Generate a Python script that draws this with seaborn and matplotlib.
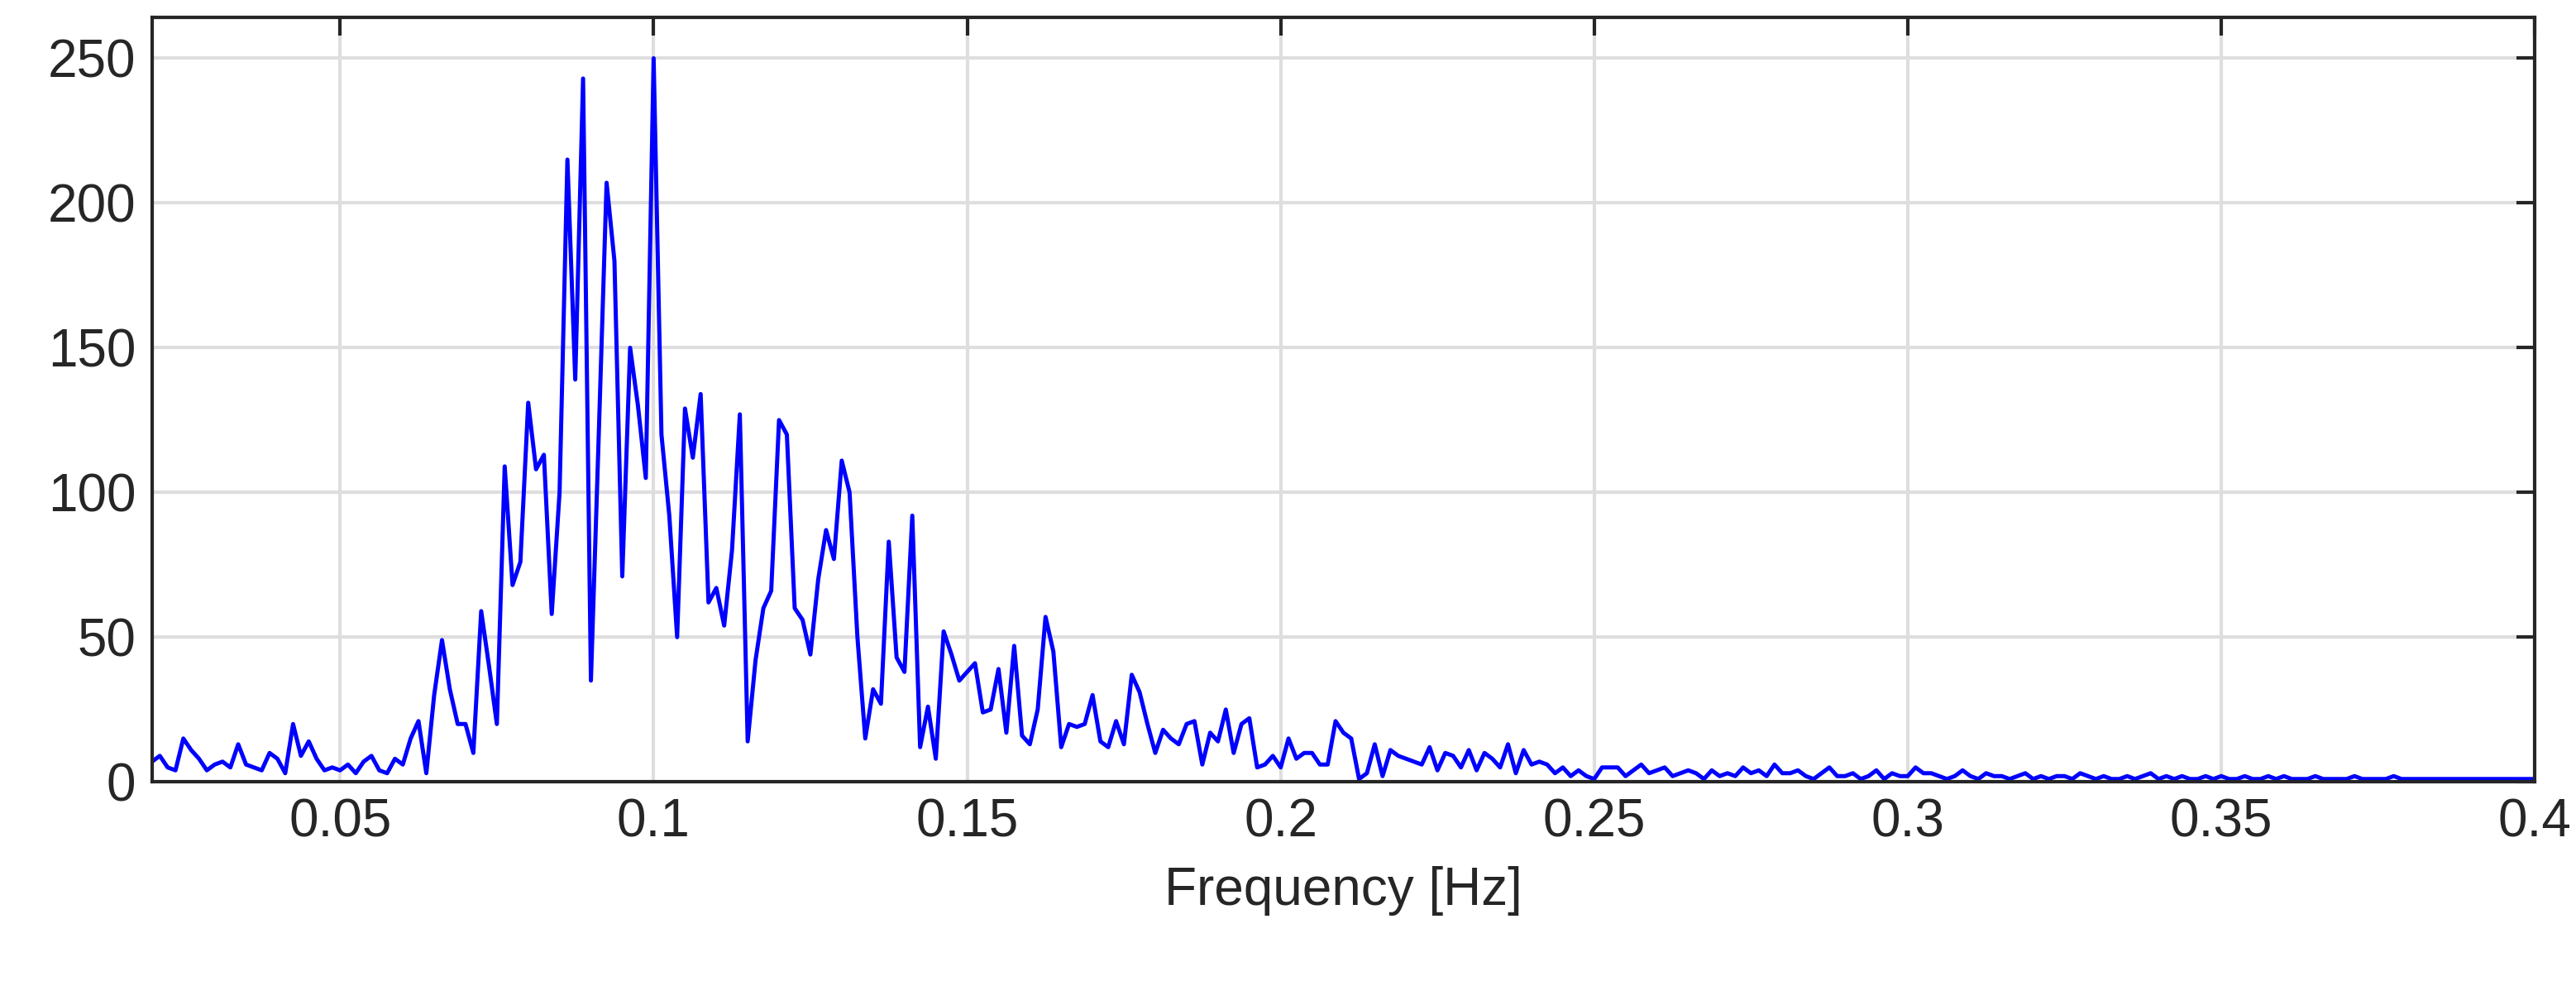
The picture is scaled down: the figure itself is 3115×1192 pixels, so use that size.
import numpy as np
import pandas as pd
import matplotlib
matplotlib.use("Agg")
import matplotlib.pyplot as plt
import seaborn as sns

freq_start = 0.02
freq_step = 0.00125
amplitude = [
    7, 9, 5, 4, 15, 11, 8, 4, 6, 7, 5, 13, 6, 5, 4, 10, 8, 3, 20, 9,
    14, 8, 4, 5, 4, 6, 3, 7, 9, 4, 3, 8, 6, 15, 21, 3, 30, 49, 32, 20,
    20, 10, 59, 40, 20, 109, 68, 76, 131, 108, 113, 58, 100, 215, 139, 243, 35, 120, 207, 180,
    71, 150, 130, 105, 250, 120, 92, 50, 129, 112, 134, 62, 67, 54, 80, 127, 14, 42, 60, 66,
    125, 120, 60, 56, 44, 70, 87, 77, 111, 100, 50, 15, 32, 27, 83, 43, 38, 92, 12, 26,
    8, 52, 44, 35, 38, 41, 24, 25, 39, 17, 47, 16, 13, 25, 57, 45, 12, 20, 19, 20,
    30, 14, 12, 21, 13, 37, 31, 20, 10, 18, 15, 13, 20, 21, 6, 17, 14, 25, 10, 20,
    22, 5, 6, 9, 5, 15, 8, 10, 10, 6, 6, 21, 17, 15, 1, 3, 13, 2, 11, 9,
    8, 7, 6, 12, 4, 10, 9, 5, 11, 4, 10, 8, 5, 13, 3, 11, 6, 7, 6, 3,
    5, 2, 4, 2, 1, 5, 5, 5, 2, 4, 6, 3, 4, 5, 2, 3, 4, 3, 1, 4,
    2, 3, 2, 5, 3, 4, 2, 6, 3, 3, 4, 2, 1, 3, 5, 2, 2, 3, 1, 2,
    4, 1, 3, 2, 2, 5, 3, 3, 2, 1, 2, 4, 2, 1, 3, 2, 2, 1, 2, 3,
    1, 2, 1, 2, 2, 1, 3, 2, 1, 2, 1, 1, 2, 1, 2, 3, 1, 2, 1, 2,
    1, 1, 2, 1, 2, 1, 1, 2, 1, 1, 2, 1, 2, 1, 1, 1, 2, 1, 1, 1,
    1, 2, 1, 1, 1, 1, 2, 1, 1, 1, 1, 1, 1, 1, 1, 1, 1, 1, 1, 1,
    1, 1, 1, 1, 1,
]
freq = [freq_start + i * freq_step for i in range(len(amplitude))]
df = pd.DataFrame({"f": freq, "a": amplitude})

sns.set_theme(style="white")
plt.rcParams["font.family"] = ["Liberation Sans", "DejaVu Sans"]

fig, ax = plt.subplots(figsize=(31.15, 11.92), dpi=100)
fig.subplots_adjust(left=0.059, right=0.984, top=0.982, bottom=0.207)
sns.lineplot(data=df, x="f", y="a", ax=ax, color="#0000ff", linewidth=3.6)
ax.set_xlim(0.02, 0.4)
ax.set_ylim(0, 264)
ax.set_xticks([0.05, 0.1, 0.15, 0.2, 0.25, 0.3, 0.35, 0.4])
ax.set_xticklabels(["0.05", "0.1", "0.15", "0.2", "0.25", "0.3", "0.35", "0.4"])
ax.set_yticks([0, 50, 100, 150, 200, 250])
ax.grid(True, color="#dedede", linewidth=3)
ax.set_axisbelow(True)
for s in ax.spines.values():
    s.set_color("#262626")
    s.set_linewidth(3)
ax.tick_params(axis="both", direction="in", length=16, width=3, colors="#262626",
               labelsize=46, top=True, right=True, pad=14)
ax.set_xlabel("Frequency [Hz]", fontsize=46, color="#262626", labelpad=16)
ax.set_ylabel("")
fig.savefig("out.png", dpi=100)
